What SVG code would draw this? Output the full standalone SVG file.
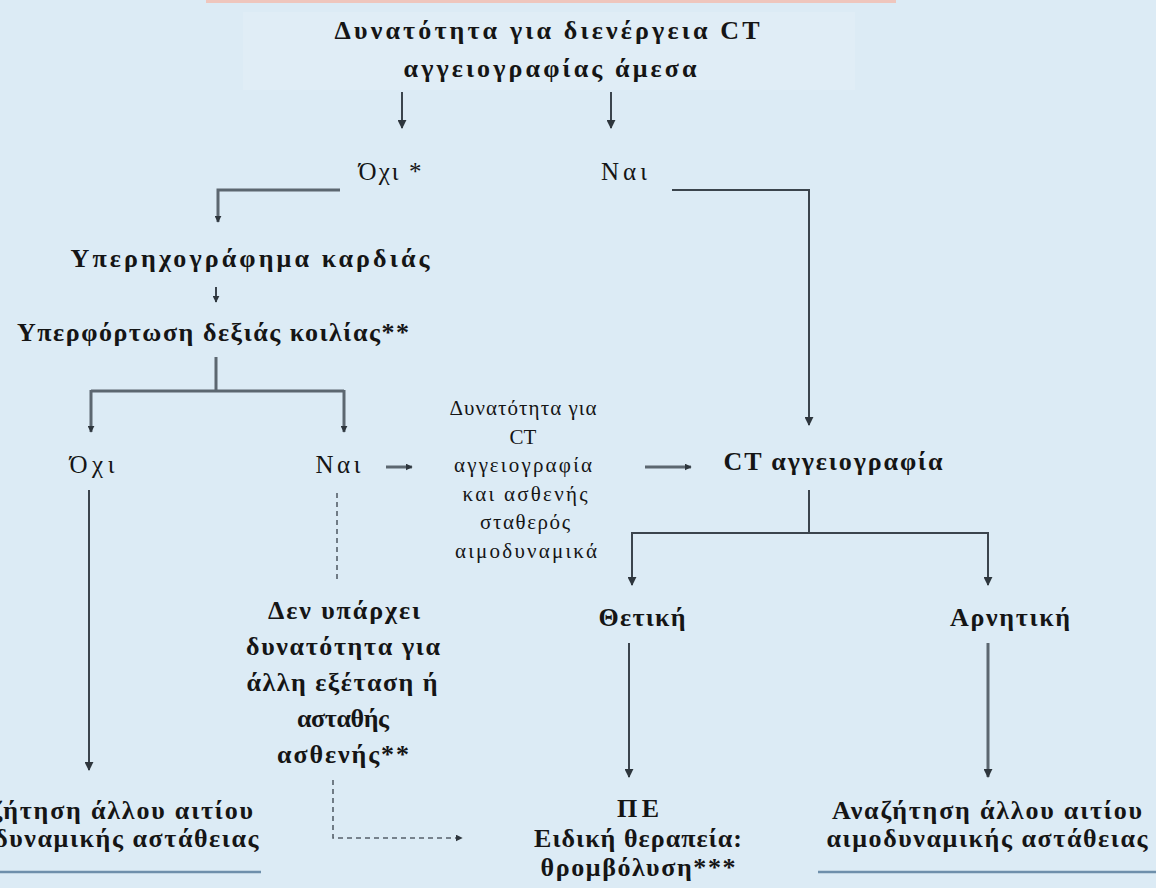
<svg xmlns="http://www.w3.org/2000/svg" width="1156" height="888" viewBox="0 0 1156 888">
<defs>
<style>
.b{font-family:"Liberation Serif","DejaVu Serif",serif;font-weight:bold;font-size:26px;fill:#151515;text-anchor:middle}
.n{font-family:"Liberation Serif","DejaVu Serif",serif;font-size:25px;fill:#151515;text-anchor:middle}
.m{font-family:"Liberation Serif","DejaVu Serif",serif;font-size:21px;fill:#151515;text-anchor:middle}
.c{fill:none;stroke:#3b444d;stroke-width:2}
.t{fill:none;stroke:#5c6770;stroke-width:3}
.d{fill:none;stroke:#55606a;stroke-width:1.6;stroke-dasharray:5 4}
.u{fill:none;stroke:#6e8fab;stroke-width:2.5}
</style>
<marker id="ah" viewBox="0 0 10 10" refX="9" refY="5" markerWidth="9" markerHeight="9" markerUnits="userSpaceOnUse" orient="auto">
<path d="M0,0 L10,5 L0,10 z" fill="#2e363d"/>
</marker>
<marker id="ahs" viewBox="0 0 10 10" refX="9" refY="5" markerWidth="7" markerHeight="7" markerUnits="userSpaceOnUse" orient="auto">
<path d="M0,0 L10,5 L0,10 z" fill="#2e363d"/>
</marker>
</defs>
<rect width="1156" height="888" fill="#dcebf5"/>
<rect x="206" y="0" width="690" height="3" fill="#efc6bd"/>
<rect x="243" y="12" width="612" height="78" fill="#e0edf6"/>

<g id="n-title">
<text class="b" x="547" y="39" textLength="425" lengthAdjust="spacing">Δυνατότητα για διενέργεια  CT</text>
<text class="b" x="550" y="77" textLength="293" lengthAdjust="spacing">αγγειογραφίας άμεσα</text>
</g>
<g id="n-oxi1"><text class="n" x="390" y="180" textLength="63" lengthAdjust="spacing">Όχι *</text></g>
<g id="n-nai1"><text class="n" x="624" y="180" textLength="46" lengthAdjust="spacing">Ναι</text></g>
<g id="n-echo"><text class="b" x="250" y="267" textLength="359" lengthAdjust="spacing">Υπερηχογράφημα καρδιάς</text></g>
<g id="n-overload"><text class="b" x="213" y="341" textLength="392" lengthAdjust="spacing">Υπερφόρτωση δεξιάς κοιλίας**</text></g>
<g id="n-oxi2"><text class="n" x="92" y="473" textLength="45" lengthAdjust="spacing">Όχι</text></g>
<g id="n-nai2"><text class="n" x="338" y="473" textLength="45" lengthAdjust="spacing">Ναι</text></g>
<g id="n-possible">
<text class="m" x="523" y="415" textLength="147" lengthAdjust="spacing">Δυνατότητα για</text>
<text class="m" x="523" y="444">CT</text>
<text class="m" x="523" y="472" textLength="138" lengthAdjust="spacing">αγγειογραφία</text>
<text class="m" x="525" y="501" textLength="125" lengthAdjust="spacing">και ασθενής</text>
<text class="m" x="525" y="529" textLength="90" lengthAdjust="spacing">σταθερός</text>
<text class="m" x="526" y="558" textLength="142" lengthAdjust="spacing">αιμοδυναμικά</text>
</g>
<g id="n-ct"><text class="b" x="833" y="470" textLength="219" lengthAdjust="spacing">CT αγγειογραφία</text></g>
<g id="n-pos"><text class="b" x="642" y="626" textLength="87" lengthAdjust="spacing">Θετική</text></g>
<g id="n-neg"><text class="b" x="1010" y="626" textLength="120" lengthAdjust="spacing">Αρνητική</text></g>
<g id="n-noother">
<text class="b" x="344" y="619" textLength="152" lengthAdjust="spacing">Δεν υπάρχει</text>
<text class="b" x="343" y="655" textLength="194" lengthAdjust="spacing">δυνατότητα για</text>
<text class="b" x="342" y="691" textLength="191" lengthAdjust="spacing">άλλη εξέταση ή</text>
<text class="b" x="343" y="727" textLength="92" lengthAdjust="spacing">ασταθής</text>
<text class="b" x="343" y="763" textLength="132" lengthAdjust="spacing">ασθενής**</text>
</g>
<g id="n-pe">
<text class="b" x="638" y="817" textLength="42" lengthAdjust="spacing">ΠΕ</text>
<text class="b" x="638" y="847" textLength="208" lengthAdjust="spacing">Ειδική θεραπεία:</text>
<text class="b" x="638" y="876" textLength="195" lengthAdjust="spacing">θρομβόλυση***</text>
</g>
<g id="n-other-right">
<text class="b" x="987" y="819" textLength="310" lengthAdjust="spacing">Αναζήτηση άλλου αιτίου</text>
<text class="b" x="987" y="847" textLength="321" lengthAdjust="spacing">αιμοδυναμικής αστάθειας</text>
</g>
<g id="n-other-left">
<text class="b" x="98" y="819" textLength="310" lengthAdjust="spacing">Αναζήτηση άλλου αιτίου</text>
<text class="b" x="98" y="847" textLength="321" lengthAdjust="spacing">αιμοδυναμικής αστάθειας</text>
</g>

<g id="connectors">
<path class="c" d="M402,92 V128" marker-end="url(#ah)"/>
<path class="c" d="M611,92 V128" marker-end="url(#ah)"/>
<path class="t" d="M340,190 H218 V222" marker-end="url(#ahs)"/>
<path class="c" d="M672,190 H809 V425" marker-end="url(#ah)"/>
<path class="c" d="M216,287 V302" marker-end="url(#ahs)"/>
<path class="t" d="M216,357 V391 M91,391 H344"/>
<path class="t" d="M91,390 V432" marker-end="url(#ahs)"/>
<path class="t" d="M344,390 V432" marker-end="url(#ahs)"/>
<path class="t" d="M386,467 H412" marker-end="url(#ahs)"/>
<path class="t" d="M645,467 H691" marker-end="url(#ahs)"/>
<path class="c" d="M89,490 V770" marker-end="url(#ah)"/>
<path class="d" d="M337,493 V583"/>
<path class="c" d="M809,490 V533 M632,533 H988"/>
<path class="c" d="M632,532 V585" marker-end="url(#ah)"/>
<path class="c" d="M988,532 V585" marker-end="url(#ah)"/>
<path class="c" d="M629,643 V777" marker-end="url(#ah)"/>
<path class="t" d="M988,643 V777" marker-end="url(#ah)"/>
<path class="d" d="M333,780 V838 H462" marker-end="url(#ahs)"/>
<path class="u" d="M0,872 H261 M818,872 H1156"/>
</g>
</svg>
